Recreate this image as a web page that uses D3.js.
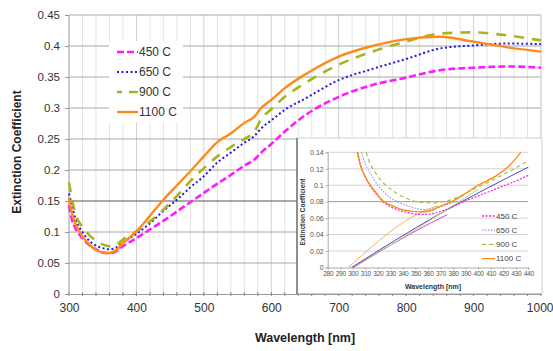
<!DOCTYPE html>
<html>
<head>
<meta charset="utf-8">
<script src="https://cdn.jsdelivr.net/npm/d3@7"></script>
<style>
  html, body { margin: 0; padding: 0; background: #ffffff; }
  svg text { font-family: "Liberation Sans", Arial, sans-serif; }
</style>
</head>
<body>
<svg id="chart" width="553" height="351"></svg>
<script>
// main chart: wavelength grid and series values
const wavelengths = [300, 305, 310, 320, 330, 340, 350, 360, 370, 380, 400, 420, 440, 460, 480, 500, 520, 540, 560, 575, 585, 600, 620, 650, 700, 750, 800, 850, 900, 950, 1000];
const k450 = [0.143, 0.118, 0.105, 0.09, 0.079, 0.072, 0.067, 0.066, 0.069, 0.077, 0.09, 0.104, 0.118, 0.133, 0.148, 0.163, 0.178, 0.192, 0.207, 0.217, 0.228, 0.242, 0.262, 0.288, 0.318, 0.337, 0.349, 0.361, 0.365, 0.367, 0.365];
const k650 = [0.162, 0.14, 0.12, 0.1, 0.086, 0.078, 0.074, 0.072, 0.075, 0.083, 0.097, 0.114, 0.134, 0.152, 0.172, 0.19, 0.212, 0.228, 0.244, 0.255, 0.267, 0.28, 0.297, 0.315, 0.345, 0.363, 0.379, 0.396, 0.401, 0.404, 0.403];
const k900 = [0.18, 0.15, 0.128, 0.108, 0.095, 0.086, 0.08, 0.077, 0.079, 0.088, 0.101, 0.117, 0.136, 0.158, 0.182, 0.203, 0.222, 0.237, 0.25, 0.262, 0.282, 0.298, 0.318, 0.34, 0.37, 0.391, 0.407, 0.42, 0.422, 0.417, 0.409];
const k1100 = [0.155, 0.128, 0.112, 0.093, 0.08, 0.071, 0.067, 0.066, 0.071, 0.082, 0.101, 0.126, 0.152, 0.175, 0.198, 0.222, 0.245, 0.259, 0.276, 0.286, 0.3, 0.313, 0.332, 0.354, 0.383, 0.4, 0.411, 0.415, 0.407, 0.398, 0.391];

const seriesNames = ["450 C", "650 C", "900 C", "1100 C"];
const yTicks = [0, 0.05, 0.1, 0.15, 0.2, 0.25, 0.3, 0.35, 0.4, 0.45];
const yTickLabels = ["0", "0.05", "0.1", "0.15", "0.2", "0.25", "0.3", "0.35", "0.4", "0.45"];
const xTicks = [300, 400, 500, 600, 700, 800, 900, 1000];

// inset: curves and linear fits, [nm, k] pairs
const inset450 = [[303.5, 0.14], [306, 0.125], [310, 0.11], [314, 0.099], [319, 0.089], [324, 0.08], [330, 0.074], [338, 0.069], [346, 0.066], [354, 0.0645], [362, 0.065], [370, 0.068], [380, 0.074], [390, 0.081], [400, 0.087], [410, 0.093], [420, 0.099], [430, 0.105], [440, 0.112]];
const inset650 = [[307, 0.14], [310, 0.126], [315, 0.112], [320, 0.1], [326, 0.09], [333, 0.082], [342, 0.076], [350, 0.072], [358, 0.0705], [366, 0.072], [374, 0.076], [382, 0.08]];
const inset900 = [[310.6, 0.14], [314, 0.126], [319, 0.113], [325, 0.102], [332, 0.093], [340, 0.086], [348, 0.081], [356, 0.079], [364, 0.0785], [372, 0.08], [380, 0.083], [390, 0.09], [400, 0.098], [410, 0.105], [420, 0.113], [430, 0.121], [440, 0.13]];
const inset1100 = [[304, 0.14], [306, 0.125], [310, 0.11], [314, 0.1], [319, 0.09], [324, 0.081], [330, 0.076], [338, 0.071], [346, 0.0685], [354, 0.0676], [362, 0.069], [370, 0.0745], [380, 0.081], [388, 0.088], [400, 0.1], [415, 0.112], [425, 0.124], [434, 0.14]];
const fit450 = [[300, 0], [362, 0.054], [375, 0.064]];
const fit650 = [[299, 0], [368, 0.064], [440, 0.122]];
const fit900 = [[301, 0], [350, 0.046], [400, 0.095]];
const fit1100 = [[296.5, 0], [362, 0.072], [368, 0.075]];
const insetXTicks = [280, 290, 300, 310, 320, 330, 340, 350, 360, 370, 380, 390, 400, 410, 420, 430, 440];
const insetYTicks = [0, 0.02, 0.04, 0.06, 0.08, 0.1, 0.12, 0.14];
const insetYTickLabels = ["0", "0.02", "0.04", "0.06", "0.08", "0.1", "0.12", "0.14"];

const colors = ["#ff1aff", "#1c1ce6", "#a8b41c", "#ff8a1a"];
const dashes = ["7,3", "2,2.5", "10,8", null];
const widths = [2.6, 2, 2.6, 2.4];
const insetColors = ["#f020f0", "#9a9aee", "#a6c040", "#ff8c1a"];
const insetFitColors = ["#e040e0", "#4848c8", "#b8d070", "#ffaa5a"];
const insetDashes = ["2,1.5", "1.5,1.5", "4,3", null];

const svg = d3.select("#chart");
const x = d3.scaleLinear().domain([300, 1000]).range([69, 541]);
const y = d3.scaleLinear().domain([0, 0.45]).range([294, 15]);

// vertical grid every 20 nm
const minorX = d3.range(320, 1001, 20);
svg.append("g").selectAll("line").data(minorX).join("line")
  .attr("x1", d => x(d)).attr("x2", d => x(d))
  .attr("y1", y(0)).attr("y2", y(0.45))
  .attr("stroke", d => d % 100 === 0 ? "#d0d0d0" : "#e4e4e4")
  .attr("stroke-width", 1);

// horizontal grid
svg.append("g").selectAll("line").data(yTicks.slice(1)).join("line")
  .attr("x1", x(300)).attr("x2", x(1000))
  .attr("y1", d => y(d)).attr("y2", d => y(d))
  .attr("stroke", d => d === 0.15 ? "#555555" : "#a8a8a8")
  .attr("stroke-width", 1);

// main axes
const yAxis = d3.axisLeft(y).tickValues(yTicks).tickSize(4)
  .tickFormat((d, i) => yTickLabels[i]);
const gy = svg.append("g").attr("transform", "translate(" + x(300) + ",0)").call(yAxis);
gy.select(".domain").attr("stroke", "#999").attr("d", "M0," + y(0) + "V" + y(0.45));
gy.selectAll(".tick line").attr("stroke", "#999");
gy.selectAll("text").attr("font-size", 11.5).attr("fill", "#333").attr("x", -9);

const xAxis = d3.axisBottom(x).tickValues(xTicks).tickSize(0).tickFormat(d3.format("d"));
const gx = svg.append("g").attr("transform", "translate(0," + y(0) + ")").call(xAxis);
gx.select(".domain").attr("stroke", "#999");
gx.selectAll("text").attr("font-size", 12).attr("fill", "#333").attr("dy", "1.25em");
gx.selectAll(".tick").filter(d => d === 1000).select("text").attr("text-anchor", "end").attr("x", 12);
svg.append("g").selectAll("line").data(d3.range(300, 1001, 20)).join("line")
  .attr("x1", d => x(d)).attr("x2", d => x(d))
  .attr("y1", y(0) - 2).attr("y2", y(0) + 2)
  .attr("stroke", "#888");
svg.append("line").attr("x1", x(1000)).attr("x2", x(1000)).attr("y1", y(0)).attr("y2", y(0.45))
  .attr("stroke", "#d8d8d8");

// main series
const mainSeries = [k450, k650, k900, k1100];
const line = d3.line().x(d => x(d[0])).y(d => y(d[1])).curve(d3.curveMonotoneX);
mainSeries.forEach((vals, i) => {
  const pts = wavelengths.map((w, j) => [w, vals[j]]);
  svg.append("path").datum(pts)
    .attr("d", line)
    .attr("fill", "none")
    .attr("stroke", colors[i])
    .attr("stroke-width", widths[i])
    .attr("stroke-dasharray", dashes[i]);
});

// main legend
const leg = svg.append("g");
leg.append("rect").attr("x", 109).attr("y", 41).attr("width", 74).attr("height", 81).attr("fill", "#fff");
seriesNames.forEach((name, i) => {
  const ly = 52 + i * 20;
  leg.append("line").attr("x1", 117).attr("x2", 138).attr("y1", ly).attr("y2", ly)
    .attr("stroke", colors[i]).attr("stroke-width", widths[i])
    .attr("stroke-dasharray", i === 2 ? "5,7,9,0" : dashes[i]);
  leg.append("text").attr("x", 139).attr("y", ly).attr("dy", "0.35em")
    .attr("font-size", 12).attr("fill", "#333").text(name);
});

// axis titles
svg.append("text").attr("x", 305).attr("y", 342).attr("text-anchor", "middle")
  .attr("font-size", 12.5).attr("font-weight", "bold").attr("fill", "#222").text("Wavelength [nm]");
svg.append("text").attr("transform", "translate(21,152) rotate(-90)").attr("text-anchor", "middle")
  .attr("font-size", 12).attr("font-weight", "bold").attr("fill", "#222").text("Extinction Coefficient");

// ---- inset ----
const ix = d3.scaleLinear().domain([280, 440]).range([327.7, 528.3]);
const iy = d3.scaleLinear().domain([0, 0.14]).range([267.5, 152.3]);
const inset = svg.append("g");
inset.append("rect").attr("x", 297).attr("y", 138).attr("width", 245).attr("height", 155.5)
  .attr("fill", "#fff").attr("stroke", "#d0d0d0").attr("stroke-width", 1);
inset.append("line").attr("x1", 297).attr("x2", 297).attr("y1", 138).attr("y2", 294)
  .attr("stroke", "#555").attr("stroke-width", 1.2);

inset.append("g").selectAll("line").data(insetYTicks.slice(1)).join("line")
  .attr("x1", ix(280)).attr("x2", ix(440))
  .attr("y1", d => iy(d)).attr("y2", d => iy(d))
  .attr("stroke", d => d === 0.08 ? "#999" : "#d4d4d4");

const iyAxis = d3.axisLeft(iy).tickValues(insetYTicks).tickSize(2)
  .tickFormat((d, i) => insetYTickLabels[i]);
const igy = inset.append("g").attr("transform", "translate(" + ix(280) + ",0)").call(iyAxis);
igy.select(".domain").attr("stroke", "#aaa");
igy.selectAll(".tick line").attr("stroke", "#aaa");
igy.selectAll("text").attr("font-size", 7).attr("fill", "#555").attr("x", -4);

const ixAxis = d3.axisBottom(ix).tickValues(insetXTicks).tickSize(2).tickFormat(d3.format("d"));
const igx = inset.append("g").attr("transform", "translate(0," + iy(0) + ")").call(ixAxis);
igx.select(".domain").attr("stroke", "#aaa");
igx.selectAll(".tick line").attr("stroke", "#aaa");
igx.selectAll("text").attr("font-size", 6.6).attr("fill", "#555").attr("y", 4).attr("letter-spacing", -0.3);

const iline = d3.line().x(d => ix(d[0])).y(d => iy(d[1])).curve(d3.curveMonotoneX);
const fitLines = [fit450, fit650, fit900, fit1100];
fitLines.forEach((pts, i) => {
  inset.append("path").datum(pts).attr("d", iline)
    .attr("fill", "none").attr("stroke", insetFitColors[i]).attr("stroke-width", 1);
});
const insetCurves = [inset450, inset650, inset900, inset1100];
insetCurves.forEach((pts, i) => {
  inset.append("path").datum(pts).attr("d", iline)
    .attr("fill", "none").attr("stroke", insetColors[i]).attr("stroke-width", i === 3 ? 1.4 : 1.2)
    .attr("stroke-dasharray", insetDashes[i]);
});

// inset legend
seriesNames.forEach((name, i) => {
  const ly = 216 + i * 14.2;
  inset.append("line").attr("x1", 482).attr("x2", 495).attr("y1", ly).attr("y2", ly)
    .attr("stroke", insetColors[i]).attr("stroke-width", 1.3).attr("stroke-dasharray", insetDashes[i]);
  inset.append("text").attr("x", 496).attr("y", ly).attr("dy", "0.35em")
    .attr("font-size", 8).attr("fill", "#444").text(name);
});

inset.append("text").attr("x", 433).attr("y", 289).attr("text-anchor", "middle")
  .attr("font-size", 7).attr("font-weight", "bold").attr("fill", "#333").text("Wavelength [nm]");
inset.append("text").attr("transform", "translate(305,212) rotate(-90)").attr("text-anchor", "middle")
  .attr("font-size", 6.5).attr("font-weight", "bold").attr("fill", "#333").text("Extinction Coefficient");
</script>
</body>
</html>
